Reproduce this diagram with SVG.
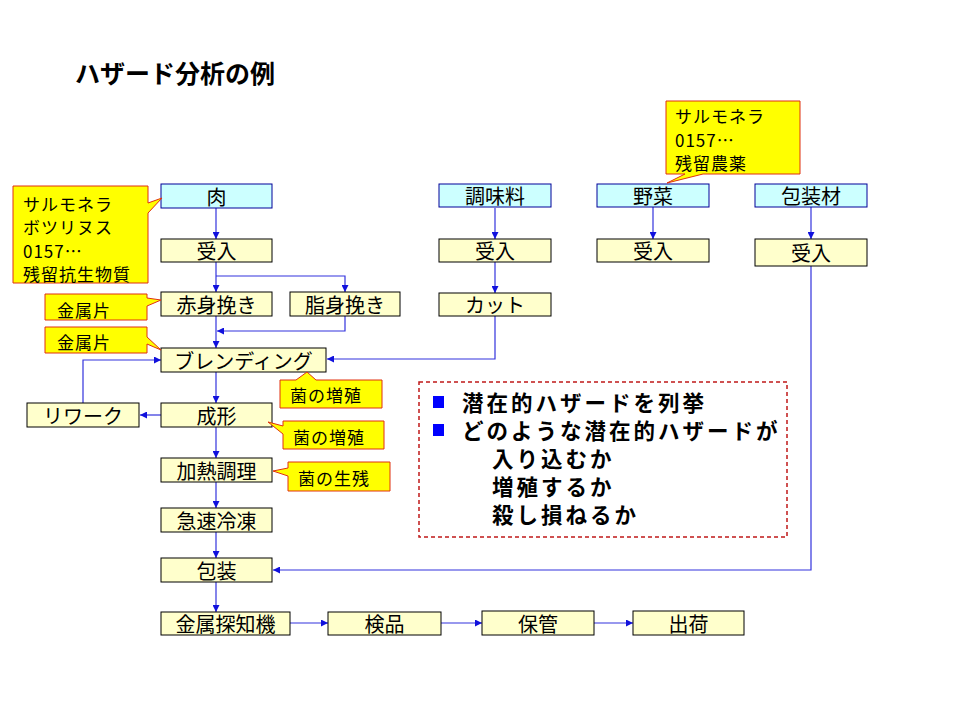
<svg xmlns="http://www.w3.org/2000/svg" width="960" height="720" viewBox="0 0 960 720">
<defs>
<style>
text{font-family:"Noto Sans CJK JP","Liberation Sans",sans-serif;fill:#000}
.n rect{fill:#FFFFCC;stroke:#000;stroke-width:1}
.s rect{fill:#CCFFFF;stroke:#000099;stroke-width:1}
.n text,.s text{font-size:20px;text-anchor:middle;dominant-baseline:central}
.c path{fill:#FFFF00;stroke:#E03010;stroke-width:1}
.c text{font-size:17px;letter-spacing:1px;dominant-baseline:central}
#connectors path{fill:none;stroke:#3333DD;stroke-width:1.2}
.b{font-size:21.5px;font-weight:bold;letter-spacing:3px}
</style>
<marker id="ar" viewBox="0 0 10 10" refX="10" refY="5" markerWidth="7" markerHeight="7" markerUnits="userSpaceOnUse" orient="auto">
<path d="M0,0L10,5L0,10z" fill="#1111DD"/>
</marker>
</defs>
<rect width="960" height="720" fill="#fff"/>
<text x="75" y="83" style="font-size:25px;font-weight:bold">ハザード分析の例</text>

<g id="connectors">
<path d="M216,208V239" marker-end="url(#ar)"/>
<path d="M216,262V292" marker-end="url(#ar)"/>
<path d="M216,276H345V292" marker-end="url(#ar)"/>
<path d="M216,316V348" marker-end="url(#ar)"/>
<path d="M345,316V331H217" marker-end="url(#ar)"/>
<path d="M495,208V239" marker-end="url(#ar)"/>
<path d="M495,262V293" marker-end="url(#ar)"/>
<path d="M495,316V359H327" marker-end="url(#ar)"/>
<path d="M653,207V239" marker-end="url(#ar)"/>
<path d="M811,207V239" marker-end="url(#ar)"/>
<path d="M811,266V570H273" marker-end="url(#ar)"/>
<path d="M216,372V403" marker-end="url(#ar)"/>
<path d="M161,415H140" marker-end="url(#ar)"/>
<path d="M83,403V360H161" marker-end="url(#ar)"/>
<path d="M216,427V458" marker-end="url(#ar)"/>
<path d="M216,482V508" marker-end="url(#ar)"/>
<path d="M216,532V558" marker-end="url(#ar)"/>
<path d="M216,582V612" marker-end="url(#ar)"/>
<path d="M290,623H328" marker-end="url(#ar)"/>
<path d="M441,623H482" marker-end="url(#ar)"/>
<path d="M594,623H633" marker-end="url(#ar)"/>
</g>

<g id="n-meat" class="s"><rect x="161" y="184" width="111" height="24"/><text x="216.5" y="196">肉</text></g>
<g id="n-recv1" class="n"><rect x="161" y="239" width="111" height="23"/><text x="216.5" y="250.5">受入</text></g>
<g id="n-red" class="n"><rect x="161" y="292" width="111" height="24"/><text x="216.5" y="304">赤身挽き</text></g>
<g id="n-fat" class="n"><rect x="290" y="292" width="110" height="24"/><text x="345" y="304">脂身挽き</text></g>
<g id="n-blend" class="n"><rect x="161" y="348" width="165" height="24"/><text x="243.5" y="360">ブレンディング</text></g>
<g id="n-rework" class="n"><rect x="27" y="403" width="112" height="24"/><text x="83" y="415">リワーク</text></g>
<g id="n-form" class="n"><rect x="161" y="403" width="111" height="24"/><text x="216.5" y="415">成形</text></g>
<g id="n-cook" class="n"><rect x="161" y="458" width="111" height="24"/><text x="216.5" y="470">加熱調理</text></g>
<g id="n-freeze" class="n"><rect x="161" y="508" width="111" height="24"/><text x="216.5" y="520">急速冷凍</text></g>
<g id="n-pack" class="n"><rect x="161" y="558" width="111" height="24"/><text x="216.5" y="570">包装</text></g>
<g id="n-metal" class="n"><rect x="161" y="612" width="129" height="23"/><text x="225.5" y="623.5">金属探知機</text></g>
<g id="n-insp" class="n"><rect x="328" y="612" width="113" height="23"/><text x="384.5" y="623.5">検品</text></g>
<g id="n-store" class="n"><rect x="482" y="611" width="112" height="24"/><text x="538" y="623">保管</text></g>
<g id="n-ship" class="n"><rect x="633" y="611" width="111" height="24"/><text x="688.5" y="623">出荷</text></g>

<g id="n-season" class="s"><rect x="439" y="184" width="112" height="23"/><text x="495" y="195.5">調味料</text></g>
<g id="n-recv2" class="n"><rect x="439" y="239" width="112" height="23"/><text x="495" y="250.5">受入</text></g>
<g id="n-cut" class="n"><rect x="439" y="293" width="112" height="23"/><text x="495" y="304.5">カット</text></g>
<g id="n-veg" class="s"><rect x="597" y="184" width="112" height="23"/><text x="653" y="195.5">野菜</text></g>
<g id="n-recv3" class="n"><rect x="597" y="239" width="112" height="23"/><text x="653" y="250.5">受入</text></g>
<g id="n-pkmat" class="s"><rect x="755" y="184" width="112" height="23"/><text x="811" y="195.5">包装材</text></g>
<g id="n-recv4" class="n"><rect x="755" y="239" width="112" height="27"/><text x="811" y="252.5">受入</text></g>

<g id="c-meat" class="c"><path d="M13,186H148V203L162,198L148,213V283H13Z"/>
<text x="23" y="203">サルモネラ</text><text x="23" y="226.5">ボツリヌス</text><text x="23" y="250">0157…</text><text x="23" y="273.5">残留抗生物質</text></g>
<g id="c-metal1" class="c"><path d="M45,294H147V298L161,300L147,306V320H45Z"/><text x="57" y="309">金属片</text></g>
<g id="c-metal2" class="c"><path d="M45,327H147V337L161,350L147,344V353H45Z"/><text x="57" y="341">金属片</text></g>
<g id="c-grow1" class="c"><path d="M280,380H296L307,372L316,380H382V408H280Z"/><text x="290" y="394">菌の増殖</text></g>
<g id="c-grow2" class="c"><path d="M283,421H384V449H283V434L268,422L283,426Z"/><text x="293" y="436">菌の増殖</text></g>
<g id="c-surv" class="c"><path d="M288,462H390V491H288V476L273,471L288,468Z"/><text x="298" y="477">菌の生残</text></g>
<g id="c-veg" class="c"><path d="M666,101H800V174H703L667,183L685,174H666Z"/>
<text x="675" y="115.5">サルモネラ</text><text x="675" y="139">0157…</text><text x="675" y="162.5">残留農薬</text></g>

<g id="note">
<rect x="419" y="382" width="368" height="155" fill="none" stroke="#C01818" stroke-width="1.5" stroke-dasharray="4,3"/>
<rect x="433" y="396" width="11" height="12" fill="#0000FF"/>
<rect x="433" y="424" width="11" height="12" fill="#0000FF"/>
<text x="462" y="411" class="b">潜在的ハザードを列挙</text>
<text x="462" y="439" class="b">どのような潜在的ハザードが</text>
<text x="492" y="467" class="b">入り込むか</text>
<text x="492" y="495" class="b">増殖するか</text>
<text x="492" y="523" class="b">殺し損ねるか</text>
</g>
</svg>
